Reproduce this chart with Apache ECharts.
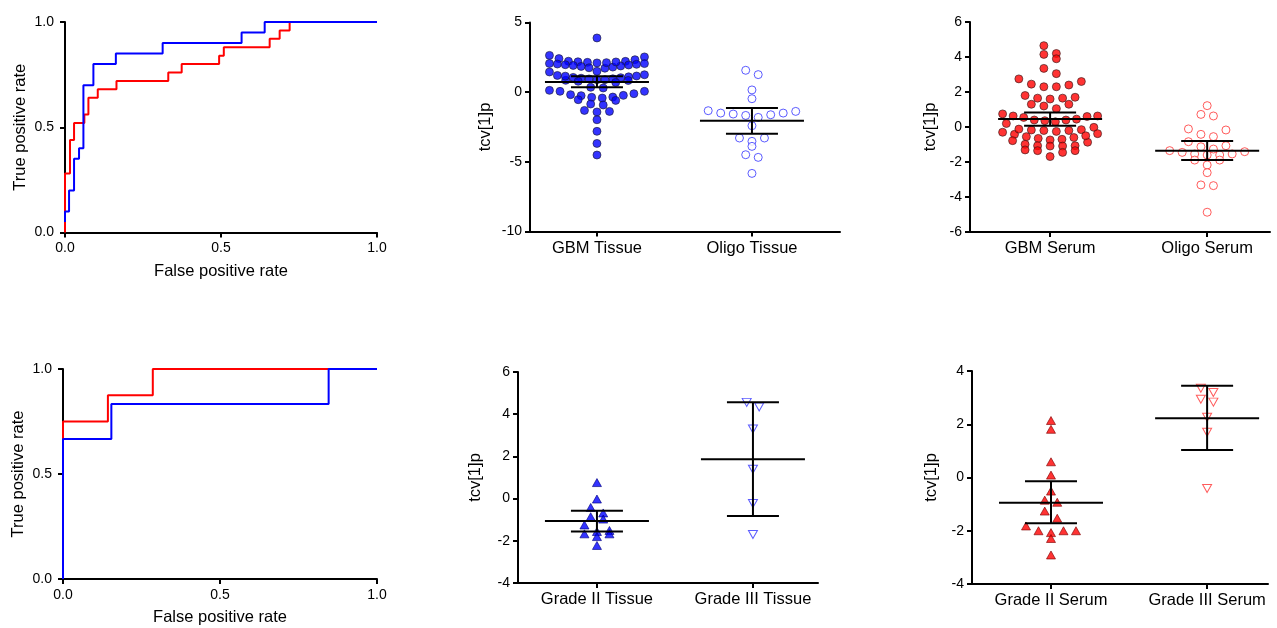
<!DOCTYPE html>
<html><head><meta charset="utf-8">
<script src="https://cdn.jsdelivr.net/npm/echarts@6/dist/echarts.min.js"></script>
<style>html,body{margin:0;padding:0;background:#fff}#c{width:1277px;height:628px}</style>
</head><body><div id="c"></div>
<script>
// ---------- ROC data (corner points of the step curves) ----------
const rocTopRedFpr  = [0, 0, 0.016, 0.029, 0.062, 0.075, 0.105, 0.165, 0.331, 0.374, 0.494, 0.509, 0.656, 0.688, 0.720, 1.0];
const rocTopRedTpr  = [0, 0.28, 0.44, 0.52, 0.56, 0.64, 0.68, 0.72, 0.76, 0.80, 0.84, 0.88, 0.92, 0.96, 1.0, 1.0];
const rocTopBlueFpr = [0, 0, 0.013, 0.029, 0.045, 0.059, 0.091, 0.163, 0.313, 0.566, 0.640, 1.0];
const rocTopBlueTpr = [0.05, 0.10, 0.20, 0.35, 0.40, 0.70, 0.80, 0.85, 0.90, 0.95, 1.0, 1.0];
const rocBotRedFpr  = [0, 0, 0.143, 0.286, 1.0];
const rocBotRedTpr  = [0, 0.75, 0.875, 1.0, 1.0];
const rocBotBlueFpr = [0, 0, 0.154, 0.846, 1.0];
const rocBotBlueTpr = [0, 0.667, 0.833, 1.0, 1.0];

// ---------- scatter data (tcv[1]p) ----------
const catsTopMid = ['GBM Tissue', 'Oligo Tissue'];
const catsTopRight = ['GBM Serum', 'Oligo Serum'];
const catsBotMid = ['Grade II Tissue', 'Grade III Tissue'];
const catsBotRight = ['Grade II Serum', 'Grade III Serum'];

const gbmTissue = [3.89, 2.64, 2.53, 2.41, 2.33, 2.21,
  2.22, 2.18, 2.14, 2.1, 2.06, 2.02, 1.97, 1.92, 1.85, 1.75, 1.72, 1.8, 1.88, 1.95, 2.0, 2.05, 2.12, 2.17,
  1.5, 1.45,
  1.2, 1.16, 1.1, 1.04, 1.0, 0.95, 0.9, 0.85, 1.25, 1.15, 1.06, 0.96, 0.9, 0.84, 0.78, 0.7,
  0.35, 0.13, 0.06, -0.18, -0.23, -0.37, -0.42, -0.35, -0.25, -0.11, 0.06, 0.3,
  -0.54, -0.85, -0.92, -0.59,
  -1.31, -1.42, -1.38, -1.98, -2.81, -3.68, -4.51];
const oligoTissue = [1.57, 1.26, 0.16, -0.47, -1.5, -1.57, -1.38, -1.33, -1.5, -1.62, -1.67, -1.81,
  -2.41, -3.29, -3.53, -3.29, -3.89, -4.49, -4.68, -5.83];
const gbmSerum = [4.65, 4.2, 4.15, 3.9, 3.35, 3.05, 2.75, 2.6, 2.45, 2.4, 2.3, 2.3,
  1.8, 1.7, 1.65, 1.65, 1.6, 1.3, 1.3, 1.2, 1.05,
  0.75, 0.63, 0.63, 0.6, 0.55, 0.45, 0.4, 0.4, 0.36, 0.3, 0.2,
  -0.02, -0.15, -0.2, -0.2, -0.17, -0.3, -0.42, -0.55, -0.65, -0.74, -0.87, -0.78, -0.7, -0.6, -0.5, -0.38, -0.25, -0.12,
  -0.99, -1.07, -1.07, -1.09, -1.09, -1.31, -1.35, -1.35, -1.45, -1.69];
const oligoSerum = [1.22, 0.72, 0.63, -0.17, -0.11, -0.42, -0.55, -0.84, -1.13, -1.35, -1.41, -1.26, -1.07,
  -1.45, -1.54, -1.6, -1.54, -1.6, -1.89, -1.89, -2.17, -2.61, -3.31, -3.35, -4.87];
const grade2Tissue = [0.76, -0.02, -0.42, -0.68, -0.97, -0.86, -1.25, -1.51, -1.56, -1.67, -1.67, -1.8, -2.22];
const grade3Tissue = [4.34, 4.56, 3.3, 1.39, -0.23, -1.7];
const grade2Serum = [2.14, 1.81, 0.59, 0.09, -0.51, -0.93, -0.85, -1.26, -1.53, -1.82, -2.0, -2.07, -2.0, -2.0, -2.29, -2.91];
const grade3Serum = [3.35, 2.94, 3.19, 2.83, 2.26, 1.7, -0.41];

// mean and error-bar ends per group [group1, group2]
const meanTopMid = [0.73, -2.05],  lowTopMid = [0.35, -2.98],  highTopMid = [1.14, -1.14];
const meanTopRight = [0.46, -1.35], lowTopRight = [0.07, -1.89], highTopRight = [0.83, -0.80];
const meanBotMid = [-1.06, 1.87],  lowBotMid = [-1.56, -0.82], highBotMid = [-0.57, 4.57];
const meanBotRight = [-0.95, 2.23], lowBotRight = [-1.72, 1.03], highBotRight = [-0.14, 3.45];

const FONT = 'Liberation Sans, Arial, sans-serif';
const BLUE = '#0000ff', RED = '#ff0000';

const chart = echarts.init(document.getElementById('c'), null, {renderer: 'canvas'});

const axisLine = {show: true, onZero: false, lineStyle: {color: '#000', width: 2}};
const axisTick = {show: true, length: 5, lineStyle: {color: '#000', width: 2}};
const lbl = {color: '#000', fontSize: 14, fontFamily: FONT};
const nameStyle = {color: '#000', fontSize: 16.5, fontFamily: FONT};

const grids = [
  {left: 65, top: 22, width: 312, height: 210.5},
  {left: 530, top: 22.5, width: 310, height: 209},
  {left: 970, top: 22, width: 300, height: 210},
  {left: 63, top: 369, width: 314, height: 210},
  {left: 518, top: 372, width: 300, height: 211},
  {left: 972, top: 371, width: 296, height: 213}
];

function rocX(g) {
  return {type: 'value', gridIndex: g, min: 0, max: 1, interval: 0.5,
    axisLine, axisTick, splitLine: {show: false},
    axisLabel: Object.assign({margin: 9, formatter: v => v.toFixed(1)}, lbl),
    name: 'False positive rate', nameLocation: 'middle', nameGap: 30, nameTextStyle: nameStyle};
}
function rocY(g) {
  return {type: 'value', gridIndex: g, min: 0, max: 1, interval: 0.5,
    axisLine, axisTick, splitLine: {show: false},
    axisLabel: Object.assign({margin: 11, formatter: v => v.toFixed(1)}, lbl),
    name: 'True positive rate', nameLocation: 'middle', nameGap: 36, nameTextStyle: nameStyle};
}
function catX(g, cats, min, max) {
  return {type: 'value', gridIndex: g, min, max,
    axisLine, axisTick: Object.assign({customValues: [1, 2]}, axisTick), splitLine: {show: false},
    axisLabel: Object.assign({margin: 8, customValues: [1, 2], formatter: v => cats[Math.round(v) - 1]},
      lbl, {fontSize: 16.5})};
}
function valY(g, min, max, interval, gap) {
  return {type: 'value', gridIndex: g, min, max, interval,
    axisLine, axisTick, splitLine: {show: false},
    axisLabel: Object.assign({margin: 8}, lbl),
    name: 'tcv[1]p', nameLocation: 'middle', nameGap: gap, nameTextStyle: nameStyle};
}

const xAxes = [
  rocX(0),
  catX(1, catsTopMid, 0.568, 2.568),
  catX(2, catsTopRight, 0.49, 2.40),
  rocX(3),
  catX(4, catsBotMid, 0.494, 2.417),
  catX(5, catsBotRight, 0.494, 2.39)
];
const yAxes = [
  rocY(0),
  valY(1, -10, 5, 5, 36),
  valY(2, -6, 6, 2, 31),
  rocY(3),
  valY(4, -4, 6, 2, 34),
  valY(5, -4, 4, 2, 32)
];

function zip(a, b) { return a.map((v, i) => [v, b[i]]); }
function rocSeries(g, fpr, tpr, color) {
  return {type: 'line', xAxisIndex: g, yAxisIndex: g, step: 'end', showSymbol: false, symbol: 'none',
    data: zip(fpr, tpr), lineStyle: {color, width: 2}, animation: false, silent: true};
}

function errRender(params, api) {
  const x = api.value(0), m = api.value(1), lo = api.value(2), hi = api.value(3);
  const pm = api.coord([x, m]), pl = api.coord([x, lo]), ph = api.coord([x, hi]);
  const st = {stroke: '#000', lineWidth: 2};
  return {type: 'group', children: [
    {type: 'line', shape: {x1: pm[0] - 52, y1: pm[1], x2: pm[0] + 52, y2: pm[1]}, style: st},
    {type: 'line', shape: {x1: pl[0] - 26, y1: pl[1], x2: pl[0] + 26, y2: pl[1]}, style: st},
    {type: 'line', shape: {x1: ph[0] - 26, y1: ph[1], x2: ph[0] + 26, y2: ph[1]}, style: st},
    {type: 'line', shape: {x1: pl[0], y1: pl[1], x2: ph[0], y2: ph[1]}, style: st}
  ]};
}
function errSeries(g, mean, low, high) {
  return {type: 'custom', xAxisIndex: g, yAxisIndex: g, renderItem: errRender,
    encode: {x: 0, y: [1, 2, 3]}, z: 5, animation: false, silent: true,
    data: mean.map((m, i) => [i + 1, m, low[i], high[i]])};
}

const styles = {
  blueFill: {symbol: 'circle', symbolSize: 8, itemStyle: {color: BLUE, borderColor: '#1a1a33', borderWidth: 0.8}},
  blueOpen: {symbol: 'circle', symbolSize: 8, itemStyle: {color: '#fff', borderColor: '#3333ff', borderWidth: 1}},
  redFill: {symbol: 'circle', symbolSize: 8, itemStyle: {color: RED, borderColor: '#331a1a', borderWidth: 0.8}},
  redOpen: {symbol: 'circle', symbolSize: 8, itemStyle: {color: '#fff', borderColor: '#ff3333', borderWidth: 1}},
  blueTri: {symbol: 'triangle', symbolSize: [9, 8], itemStyle: {color: BLUE, borderColor: '#000080', borderWidth: 0.8}},
  blueTriDown: {symbol: 'triangle', symbolRotate: 180, symbolSize: [9, 8], itemStyle: {color: '#fff', borderColor: '#3333ff', borderWidth: 1}},
  redTri: {symbol: 'triangle', symbolSize: [9, 8], itemStyle: {color: RED, borderColor: '#800000', borderWidth: 0.8}},
  redTriDown: {symbol: 'triangle', symbolRotate: 180, symbolSize: [9, 8], itemStyle: {color: '#fff', borderColor: '#ff3333', borderWidth: 1}}
};

const groups = [
  {g: 1, pos: 1, vals: gbmTissue, st: 'blueFill'},
  {g: 1, pos: 2, vals: oligoTissue, st: 'blueOpen'},
  {g: 2, pos: 1, vals: gbmSerum, st: 'redFill'},
  {g: 2, pos: 2, vals: oligoSerum, st: 'redOpen'},
  {g: 4, pos: 1, vals: grade2Tissue, st: 'blueTri'},
  {g: 4, pos: 2, vals: grade3Tissue, st: 'blueTriDown'},
  {g: 5, pos: 1, vals: grade2Serum, st: 'redTri'},
  {g: 5, pos: 2, vals: grade3Serum, st: 'redTriDown'}
];

function scatterSeries(grp, data) {
  return Object.assign({type: 'scatter', xAxisIndex: grp.g, yAxisIndex: grp.g, z: 3,
    animation: false, silent: true, data}, styles[grp.st]);
}

function buildSeries(dataList) {
  return [
    rocSeries(0, rocTopRedFpr, rocTopRedTpr, RED),
    rocSeries(0, rocTopBlueFpr, rocTopBlueTpr, BLUE),
    rocSeries(3, rocBotRedFpr, rocBotRedTpr, RED),
    rocSeries(3, rocBotBlueFpr, rocBotBlueTpr, BLUE),
    ...groups.map((grp, i) => scatterSeries(grp, dataList[i])),
    errSeries(1, meanTopMid, lowTopMid, highTopMid),
    errSeries(2, meanTopRight, lowTopRight, highTopRight),
    errSeries(4, meanBotMid, lowBotMid, highBotMid),
    errSeries(5, meanBotRight, lowBotRight, highBotRight)
  ];
}

chart.setOption({
  animation: false,
  backgroundColor: '#fff',
  textStyle: {fontFamily: FONT},
  grid: grids,
  xAxis: xAxes,
  yAxis: yAxes,
  series: buildSeries(groups.map(grp => grp.vals.map(v => [grp.pos, v])))
});

// scatter-dot-plot spreading (rows of near-equal values laid out side by side),
// computed in pixel space through the axes' own scales
function spread(grp, rowH, step, maxW) {
  const p0 = chart.convertToPixel({gridIndex: grp.g}, [grp.pos, 0]);
  const p1 = chart.convertToPixel({gridIndex: grp.g}, [grp.pos + 1, 1]);
  const pxX = p1[0] - p0[0], pxY = p0[1] - p1[1];
  const vals = grp.vals;
  const order = vals.map((v, i) => i).sort((a, b) => vals[b] - vals[a]);
  const rows = [];
  let cur = null;
  for (const i of order) {
    if (!cur || (vals[cur.start] - vals[i]) * pxY > rowH) { cur = {start: i, idx: []}; rows.push(cur); }
    cur.idx.push(i);
  }
  const out = [];
  for (const r of rows) {
    const n = r.idx.length;
    const s = n > 1 ? Math.min(step, maxW / (n - 1)) : 0;
    const asc = r.idx.slice().sort((a, b) => vals[a] - vals[b]);
    const slots = [];
    if (n % 2) { slots.push(0); for (let k = 1; slots.length < n; k++) { slots.push(k, -k); } }
    else { for (let k = 0.5; slots.length < n; k++) { slots.push(k, -k); } }
    asc.forEach((i, j) => { out[i] = [grp.pos + slots[j] * s / pxX, vals[i]]; });
  }
  return out;
}

chart.setOption({series: buildSeries(groups.map(grp => spread(grp, 8, 12.5, 95)))});
</script>
</body></html>
